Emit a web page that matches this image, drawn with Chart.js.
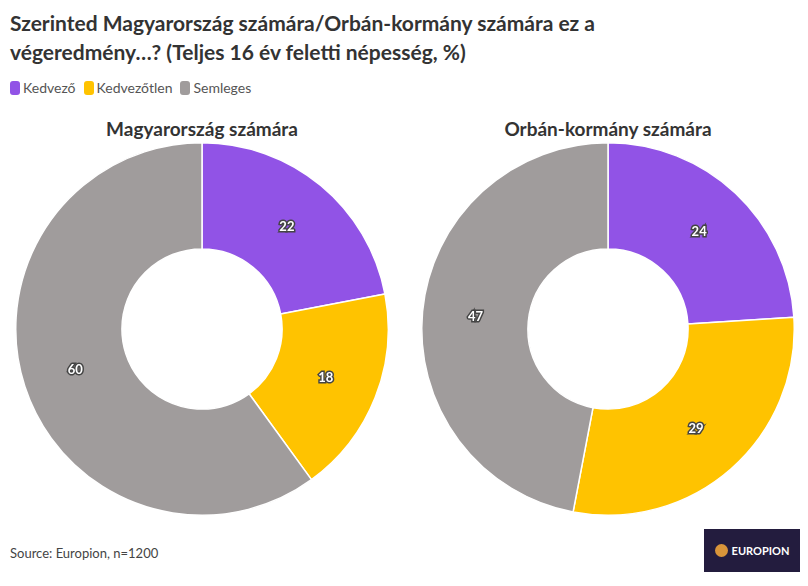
<!DOCTYPE html>
<html><head><meta charset="utf-8">
<script src="https://cdn.jsdelivr.net/npm/chart.js@4"></script>
<style>
body{margin:0;width:808px;height:586px;background:#fff;font-family:Lato,"Open Sans",sans-serif;position:relative;overflow:hidden;color:#333}
#title{position:absolute;left:10px;top:8px;font-size:21px;font-weight:bold;line-height:29px;color:#333}
#legend{position:absolute;left:10px;top:79px;font-size:14px;color:#555;display:flex;gap:8px}
#legend span i{display:inline-block;width:10px;height:14px;border-radius:3px;margin-right:3px;vertical-align:-2px}
.sub{position:absolute;top:117px;font-size:19px;font-weight:bold;color:#333;text-align:center;width:380px}
canvas{position:absolute}
#src{position:absolute;left:10px;top:545px;font-size:13px;color:#444}
#logo{position:absolute;left:704px;top:529px;width:96px;height:43px;background:#231c3e;color:#fff;font-size:11px;font-weight:bold;display:flex;align-items:center;justify-content:center;gap:4px}
#logo b{display:inline-block;width:13px;height:13px;border-radius:50%;background:#d9953a}
</style></head><body>
<div id="title">Szerinted Magyarország számára/Orbán-kormány számára ez a<br>végeredmény…? (Teljes 16 év feletti népesség, %)</div>
<div id="legend"><span><i style="background:#9153e6"></i>Kedvező</span><span><i style="background:#ffc300"></i>Kedvezőtlen</span><span><i style="background:#a09c9c"></i>Semleges</span></div>
<div class="sub" style="left:12px">Magyarország számára</div>
<div class="sub" style="left:418px">Orbán-kormány számára</div>
<canvas id="c1" width="380" height="380" style="left:12px;top:139px"></canvas>
<canvas id="c2" width="380" height="380" style="left:418px;top:139px"></canvas>
<div id="src">Source: Europion, n=1200</div>
<div id="logo"><b></b>EUROPION</div>
<script>
const categories=["Kedvező","Kedvezőtlen","Semleges"];
const magyarorszag=[22,18,60];
const kormany=[24,29,47];
const colors=["#9153e6","#ffc300","#a09c9c"];
const labelPlugin={id:'lbl',afterDatasetsDraw(chart){
 const ctx=chart.ctx;const meta=chart.getDatasetMeta(0);
 ctx.save();ctx.font="bold 13px Lato";ctx.textAlign="center";ctx.textBaseline="middle";
 meta.data.forEach((a,i)=>{const p=a.tooltipPosition();const v=chart.data.datasets[0].data[i];
  ctx.lineWidth=3;ctx.strokeStyle="#444";ctx.strokeText(v,p.x,p.y);ctx.fillStyle="#fff";ctx.fillText(v,p.x,p.y);});
 ctx.restore();}};
function mk(id,data){new Chart(document.getElementById(id),{type:'doughnut',
 data:{labels:categories,datasets:[{data:data,backgroundColor:colors,borderColor:"#fff",borderWidth:1.5}]},
 options:{responsive:false,animation:false,cutout:'43%',layout:{padding:3},
  plugins:{legend:{display:false},tooltip:{enabled:false}}},plugins:[labelPlugin]});}
mk('c1',magyarorszag);mk('c2',kormany);
</script></body></html>
